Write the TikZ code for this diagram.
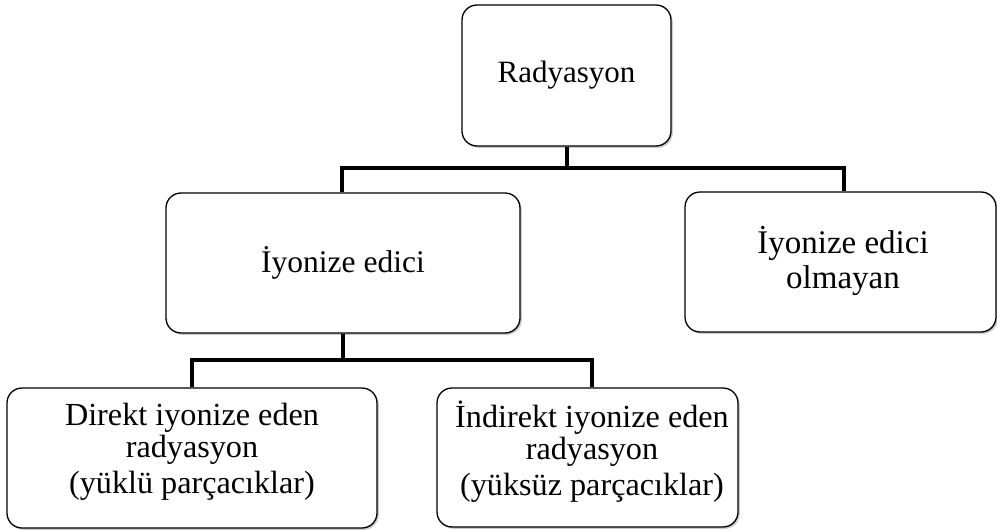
\documentclass[tikz,border=0pt]{standalone}
\usepackage{fontspec}
\setmainfont{Liberation Serif}
\usetikzlibrary{shadows}
\begin{document}
\begin{tikzpicture}[x=1pt,y=-1pt,
  box/.style={draw=black, line width=1.3pt, rounded corners=15pt, fill=white,
    align=center, inner sep=0pt,
    drop shadow={shadow xshift=1.8pt, shadow yshift=-1.8pt, opacity=0.35, fill=black!60},
    font=\fontsize{31}{30}\selectfont},
  lbl/.style={align=center, inner sep=0pt},
  conn/.style={draw=black, line width=4pt, line join=miter}]
\useasboundingbox (0,0) rectangle (997,530);
\node[box, minimum width=209pt, minimum height=141pt] (r) at (566.5,75.5) {Radyasyon};
\node[box, minimum width=354pt, minimum height=140pt, font=\fontsize{31.5}{30}\selectfont] (i) at (343,263) {İyonize edici};
\node[box, minimum width=311pt, minimum height=140pt] (n) at (840.5,262) {};
\node[box, minimum width=370pt, minimum height=140pt] (d) at (192,458) {};
\node[box, minimum width=301pt, minimum height=139pt] (e) at (587.5,457.5) {};
\node[lbl, font=\fontsize{33}{35}\selectfont] (nt) at (843,261) {İyonize edici\\olmayan};
\node[lbl, font=\fontsize{32.2}{31.5}\selectfont] (dt) at (192,452) {Direkt iyonize eden\\radyasyon\\[5pt](yüklü parçacıklar)};
\node[lbl, font=\fontsize{32.2}{31.5}\selectfont] (et) at (592,452) {İndirekt iyonize eden\\radyasyon\\[5pt](yüksüz parçacıklar)};
\coordinate (bus1) at (0,168);
\coordinate (bus2) at (0,360);
\draw[conn] (r.south) -- (r.south |- bus1);
\draw[conn] (i.north -| 342,0) -- (342,0 |- bus1) -- (844,0 |- bus1) -- (n.north -| 844,0);
\draw[conn] (i.south) -- (i.south |- bus2);
\draw[conn] (d.north) -- (d.north |- bus2) -- (592,0 |- bus2) -- (e.north -| 592,0);
\end{tikzpicture}
\end{document}
